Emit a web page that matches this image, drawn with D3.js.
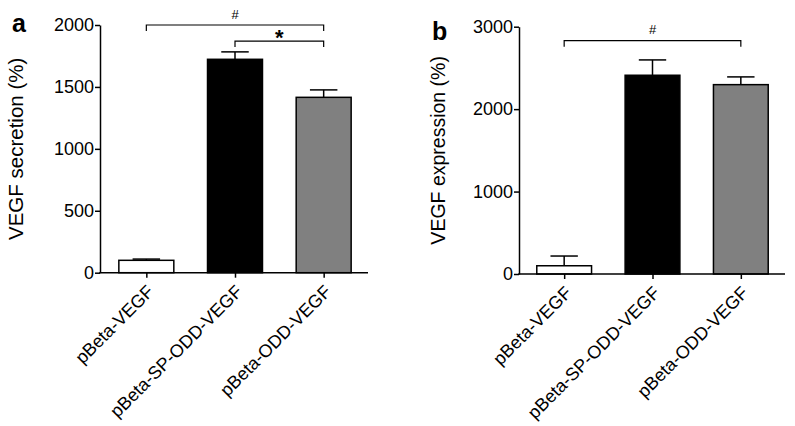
<!DOCTYPE html>
<html>
<head>
<meta charset="utf-8">
<script src="https://cdn.jsdelivr.net/npm/d3@7"></script>
<style>
  html, body { margin: 0; padding: 0; background: #fff; }
  svg { display: block; font-family: "Liberation Sans", Arial, sans-serif; }
</style>
</head>
<body>
<div id="chart"></div>
<script>
// categories shared by both panels
const categories = ['pBeta-VEGF', 'pBeta-SP-ODD-VEGF', 'pBeta-ODD-VEGF'];
const barColors = ['#ffffff', '#000000', '#808080'];

// panel a: VEGF secretion (%)
const secretionMeans = [100, 1723, 1416];
const secretionErrors = [10, 60, 60];
const secretionTicks = [0, 500, 1000, 1500, 2000];
const secretionBrackets = [
    { from: 0, to: 2, level: 2000, label: '#' },
    { from: 1, to: 2, level: 1870, label: '*' }
];

// panel b: VEGF expression (%)
const expressionMeans = [100, 2411, 2297];
const expressionErrors = [118, 186, 94];
const expressionTicks = [0, 1000, 2000, 3000];
const expressionBrackets = [
    { from: 0, to: 2, level: 2830, label: '#' }
];

const width = 795;
const height = 426;

const svg = d3.select('#chart').append('svg')
    .attr('width', width)
    .attr('height', height);

const panels = [
    {
        letter: 'a', letterX: 12, letterY: 32,
        title: 'VEGF secretion (%)', titleX: 23, titleSize: 20.5,
        left: 100, right: 368, top: 25, bottom: 272.7,
        xStart: 102, max: 2000,
        means: secretionMeans, errors: secretionErrors,
        ticks: secretionTicks, brackets: secretionBrackets
    },
    {
        letter: 'b', letterX: 432, letterY: 40,
        title: 'VEGF expression (%)', titleX: 445, titleSize: 19.5,
        left: 519, right: 785, top: 26.7, bottom: 274,
        xStart: 520, max: 3000,
        means: expressionMeans, errors: expressionErrors,
        ticks: expressionTicks, brackets: expressionBrackets
    }
];

panels.forEach(p => {
    const g = svg.append('g');

    const x = d3.scalePoint()
        .domain(categories)
        .range([p.xStart, p.right])
        .padding(0.5);
    const barW = x.step() * 0.62;

    const y = d3.scaleLinear()
        .domain([0, p.max])
        .range([p.bottom, p.top]);

    // error bars (upper only)
    const capW = barW * 0.5;
    categories.forEach((c, i) => {
        const cx = x(c);
        const top = y(p.means[i] + p.errors[i]);
        g.append('line')
            .attr('x1', cx).attr('x2', cx)
            .attr('y1', y(p.means[i])).attr('y2', top)
            .attr('stroke', '#000').attr('stroke-width', 1.5);
        g.append('line')
            .attr('x1', cx - capW / 2).attr('x2', cx + capW / 2)
            .attr('y1', top).attr('y2', top)
            .attr('stroke', '#000').attr('stroke-width', 1.5);
    });

    // bars
    g.selectAll('rect.bar')
        .data(p.means)
        .join('rect')
        .attr('class', 'bar')
        .attr('x', (d, i) => x(categories[i]) - barW / 2)
        .attr('y', d => y(d))
        .attr('width', barW)
        .attr('height', d => y(0) - y(d))
        .attr('fill', (d, i) => barColors[i])
        .attr('stroke', '#000')
        .attr('stroke-width', 1.5);

    // y axis
    const yAxis = g.append('g')
        .attr('transform', `translate(${p.left},0)`)
        .call(d3.axisLeft(y).tickValues(p.ticks).tickSize(5).tickSizeOuter(0).tickPadding(1).tickFormat(d3.format('d')));
    yAxis.select('.domain').attr('stroke-width', 1.5);
    yAxis.selectAll('.tick line').attr('stroke-width', 1.5);
    yAxis.selectAll('.tick text')
        .attr('font-size', 18)
        .attr('font-family', '"Liberation Sans", Arial, sans-serif')
        .attr('fill', '#000');

    // x axis
    const xAxis = g.append('g')
        .attr('transform', `translate(0,${p.bottom})`)
        .call(d3.axisBottom(x).tickSize(5).tickSizeOuter(0));
    xAxis.select('.domain').remove();
    xAxis.selectAll('.tick line').attr('stroke-width', 1.5);
    xAxis.selectAll('.tick text')
        .attr('font-size', 18)
        .attr('font-family', '"Liberation Sans", Arial, sans-serif')
        .attr('fill', '#000')
        .attr('text-anchor', 'end')
        .attr('dy', 0)
        .attr('transform', 'translate(8,20) rotate(-45)')
        .attr('y', 0)
        .attr('x', 0);
    g.append('line')
        .attr('x1', p.left - 0.75).attr('x2', p.right)
        .attr('y1', p.bottom).attr('y2', p.bottom)
        .attr('stroke', '#000').attr('stroke-width', 1.5);

    // significance brackets
    p.brackets.forEach(b => {
        const x1 = x(categories[b.from]);
        const x2 = x(categories[b.to]);
        const by = y(b.level);
        g.append('path')
            .attr('d', `M${x1},${by + 6}V${by}H${x2}V${by + 6}`)
            .attr('fill', 'none')
            .attr('stroke', '#000')
            .attr('stroke-width', 1.2);
        const star = b.label === '*';
        g.append('text')
            .attr('x', (x1 + x2) / 2)
            .attr('y', star ? by + 4 : by - 6.5)
            .attr('text-anchor', 'middle')
            .attr('font-size', star ? 22 : 13)
            .attr('font-weight', star ? 'bold' : 'normal')
            .text(b.label);
    });

    // y title
    g.append('text')
        .attr('transform', `translate(${p.titleX},${(p.top + p.bottom) / 2}) rotate(-90)`)
        .attr('text-anchor', 'middle')
        .attr('font-size', p.titleSize)
        .text(p.title);

    // panel letter
    svg.append('text')
        .attr('x', p.letterX)
        .attr('y', p.letterY)
        .attr('font-size', 25)
        .attr('font-weight', 'bold')
        .text(p.letter);
});
</script>
</body>
</html>
